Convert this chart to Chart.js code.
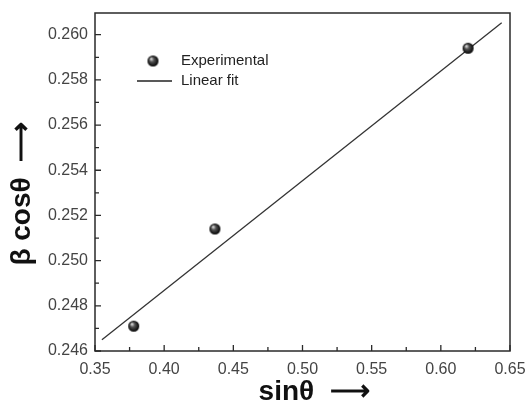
<!DOCTYPE html>
<html><head><meta charset="utf-8">
<script src="https://cdn.jsdelivr.net/npm/chart.js@4.4.1/dist/chart.umd.min.js"></script>
<style>html,body{margin:0;padding:0;background:#fff}#wrap{width:527px;height:406px}</style>
</head><body><div id="wrap"><canvas id="c" width="527" height="406"></canvas></div>
<script>
const expX = [0.378, 0.4367, 0.6197];
const expY = [0.2471, 0.2514, 0.2594];
const fitX = [0.355, 0.644];
const fitY = [0.2465, 0.26053];
const xTicks = [0.35, 0.40, 0.45, 0.50, 0.55, 0.60, 0.65];
const yTicks = [0.246, 0.248, 0.250, 0.252, 0.254, 0.256, 0.258, 0.260];
const xMinor = [0.375, 0.425, 0.475, 0.525, 0.575, 0.625];
const yMinor = [0.247, 0.249, 0.251, 0.253, 0.255, 0.257, 0.259];
const seriesLabels = ['Experimental', 'Linear fit'];

function sphere(r) {
  const c = document.createElement('canvas');
  c.width = c.height = 2 * r + 2;
  const g = c.getContext('2d');
  const cx = r + 1, cy = r + 1;
  const grad = g.createRadialGradient(cx - r * 0.35, cy - r * 0.4, r * 0.1, cx, cy, r);
  grad.addColorStop(0, '#d8d8d8');
  grad.addColorStop(0.35, '#555');
  grad.addColorStop(1, '#000');
  g.fillStyle = grad;
  g.beginPath(); g.arc(cx, cy, r, 0, Math.PI * 2); g.fill();
  return c;
}
const ball = sphere(5.5);

const frameTicks = {
  id: 'frameTicks',
  afterDraw(chart) {
    const {ctx, chartArea: a, scales: {x, y}} = chart;
    ctx.save();
    ctx.strokeStyle = '#2a2a2a';
    ctx.lineWidth = 1.5;
    ctx.strokeRect(a.left, a.top, a.right - a.left, a.bottom - a.top);
    ctx.lineWidth = 1.3;
    ctx.beginPath();
    xTicks.forEach(v => { const px = x.getPixelForValue(v); ctx.moveTo(px, a.bottom); ctx.lineTo(px, a.bottom - 6); });
    xMinor.forEach(v => { const px = x.getPixelForValue(v); ctx.moveTo(px, a.bottom); ctx.lineTo(px, a.bottom - 4); });
    yTicks.forEach(v => { const py = y.getPixelForValue(v); ctx.moveTo(a.left, py); ctx.lineTo(a.left + 6, py); });
    yMinor.forEach(v => { const py = y.getPixelForValue(v); ctx.moveTo(a.left, py); ctx.lineTo(a.left + 4, py); });
    ctx.stroke();
    // legend
    const lx = a.left, ly = a.top;
    ctx.drawImage(ball, lx + 58 - 6.5, ly + 48 - 6.5);
    ctx.strokeStyle = '#222';
    ctx.lineWidth = 1.3;
    ctx.beginPath(); ctx.moveTo(lx + 42, ly + 68); ctx.lineTo(lx + 77, ly + 68); ctx.stroke();
    ctx.fillStyle = '#222';
    ctx.font = '15px "Liberation Sans", Arial, sans-serif';
    ctx.textBaseline = 'middle';
    ctx.textAlign = 'left';
    ctx.fillText(chart.data.datasets[0].label, lx + 86, ly + 48);
    ctx.fillText(chart.data.datasets[1].label, lx + 86, ly + 68);
    ctx.restore();
  }
};

function zeroPad(s) { s.paddingLeft = 0; s.paddingRight = 0; s.paddingTop = 0; s.paddingBottom = 0; }

new Chart(document.getElementById('c'), {
  type: 'scatter',
  data: {
    datasets: [
      {
        label: seriesLabels[0],
        data: expX.map((v, i) => ({x: v, y: expY[i]})),
        pointStyle: ball,
        pointRadius: 6,
        showLine: false,
        order: 0
      },
      {
        label: seriesLabels[1],
        data: fitX.map((v, i) => ({x: v, y: fitY[i]})),
        showLine: true,
        pointRadius: 0,
        borderColor: '#333',
        borderWidth: 1.3,
        order: 1
      }
    ]
  },
  options: {
    responsive: false,
    animation: false,
    devicePixelRatio: 1,
    layout: {padding: {top: 13, right: 17, left: 0, bottom: 0}},
    plugins: {legend: {display: false}, tooltip: {enabled: false}},
    scales: {
      x: {
        type: 'linear', min: 0.35, max: 0.65,
        afterBuildTicks: s => { s.ticks = xTicks.map(v => ({value: v})); },
        afterFit: s => { s.height = 55; zeroPad(s); },
        grid: {display: false, drawTicks: false},
        border: {display: false},
        ticks: {
          padding: 9, color: '#444',
          font: {family: '"Liberation Sans", Arial, sans-serif', size: 16},
          callback: v => v.toFixed(2)
        },
        title: {
          display: true, text: '   sinθ  ⟶',
          color: '#111',
          font: {family: '"Liberation Sans", Arial, sans-serif', size: 28, weight: 'bold', lineHeight: 1},
          padding: {top: 0, bottom: 0}
        }
      },
      y: {
        type: 'linear', min: 0.246, max: 0.26096,
        afterBuildTicks: s => { s.ticks = yTicks.map(v => ({value: v})); },
        afterFit: s => { s.width = 95; zeroPad(s); },
        grid: {display: false, drawTicks: false},
        border: {display: false},
        ticks: {
          padding: 7, color: '#444',
          font: {family: '"Liberation Sans", Arial, sans-serif', size: 16},
          callback: v => v.toFixed(3)
        },
        title: {
          display: true, text: 'β cosθ  ⟶   ',
          color: '#111',
          font: {family: '"Liberation Sans", Arial, sans-serif', size: 28, weight: 'bold', lineHeight: 1},
          padding: {top: 8, bottom: 0}
        }
      }
    }
  },
  plugins: [frameTicks]
});
</script></body></html>
